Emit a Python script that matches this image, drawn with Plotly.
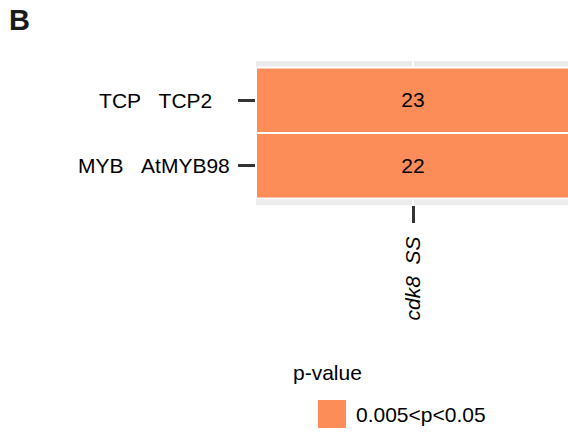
import plotly.graph_objects as go

# ---- data -------------------------------------------------------------
genes = ["TCP   TCP2   ", "MYB   AtMYB98"]          # rows, top to bottom
samples = ["cdk8  SS"]                              # columns
counts = [23, 22]                                   # number per row
pvalue_class = ["0.005<p<0.05", "0.005<p<0.05"]     # significance class per row

class_colors = {"0.005<p<0.05": "#FC8D59"}
class_order = list(class_colors)

# ---- figure geometry --------------------------------------------------
W, H = 568, 435
L, R, T, B = 256, 0, 61, 230
PW, PH = W - L - R, H - T - B
FONT = "Liberation Sans, Arial"
FS = 21


def nb(s):
    return s.replace(" ", "\u00a0")


def px_x(px):
    return (px - L) / PW


def px_y(py):
    return (H - B - py) / PH


# plotly puts the first category at the bottom -> reverse the rows
rows = [nb(g) for g in genes][::-1]
row_counts = counts[::-1]
row_class = pvalue_class[::-1]

z = [[class_order.index(c)] for c in row_class]
text = [[str(n)] for n in row_counts]
col = class_colors[class_order[0]]

fig = go.Figure(
    go.Heatmap(
        x=[nb(s) for s in samples],
        y=rows,
        z=z,
        text=text,
        texttemplate="%{text}",
        textfont=dict(size=FS, color="black", family=FONT),
        colorscale=[[0, col], [1, col]],
        zmin=0,
        zmax=max(1, len(class_order) - 1),
        showscale=False,
        hoverinfo="skip",
    )
)

# white tile outlines
for i in range(len(rows)):
    for j in range(len(samples)):
        fig.add_shape(
            type="rect", xref="x", yref="y",
            x0=j - 0.5, x1=j + 0.5, y0=i - 0.5, y1=i + 0.5,
            line=dict(color="white", width=2), fillcolor="rgba(0,0,0,0)",
            layer="above",
        )

# x axis is cut on the right side of the canvas
x_units_visible = PW / 314
fig.update_xaxes(
    type="category",
    range=[-0.5, -0.5 + x_units_visible],
    showgrid=True, gridcolor="white", gridwidth=2,
    zeroline=False, showline=False,
    ticks="outside", ticklen=17, tickwidth=2.5, tickcolor="#333333",
    tickangle=-90,
    tickfont=dict(size=FS, color="black", family=FONT, style="italic"),
    ticklabelstandoff=5,
)
fig.update_yaxes(
    type="category",
    range=[-0.6, len(rows) - 0.4],
    showgrid=False, zeroline=False, showline=False,
    ticks="outside", ticklen=17, tickwidth=2.5, tickcolor="#333333",
    tickfont=dict(size=FS, color="black", family=FONT),
    ticklabelstandoff=4,
)

# panel letter
fig.add_annotation(
    text="<b>B</b>", xref="paper", yref="paper",
    x=px_x(7), y=px_y(20), xanchor="left", yanchor="middle",
    showarrow=False, font=dict(size=29, color="#1a1a1a", family=FONT),
)

# legend: title, key, label
fig.add_annotation(
    text="p-value", xref="paper", yref="paper",
    x=px_x(291), y=px_y(372), xanchor="left", yanchor="middle",
    showarrow=False, font=dict(size=FS, color="black", family=FONT),
)
key_y = 400
for k, cls in enumerate(class_order):
    y0 = key_y + k * 30
    fig.add_shape(
        type="rect", xref="paper", yref="paper",
        x0=px_x(318), x1=px_x(346), y0=px_y(y0 + 28), y1=px_y(y0),
        line=dict(width=0), fillcolor=class_colors[cls],
    )
    fig.add_annotation(
        text=nb(cls), xref="paper", yref="paper",
        x=px_x(354), y=px_y(y0 + 14), xanchor="left", yanchor="middle",
        showarrow=False, font=dict(size=FS, color="black", family=FONT),
    )

fig.update_layout(
    width=W, height=H,
    margin=dict(l=L, r=R, t=T, b=B, autoexpand=False),
    plot_bgcolor="#EBEBEB", paper_bgcolor="white",
    showlegend=False,
)

fig.write_html("out.html")
